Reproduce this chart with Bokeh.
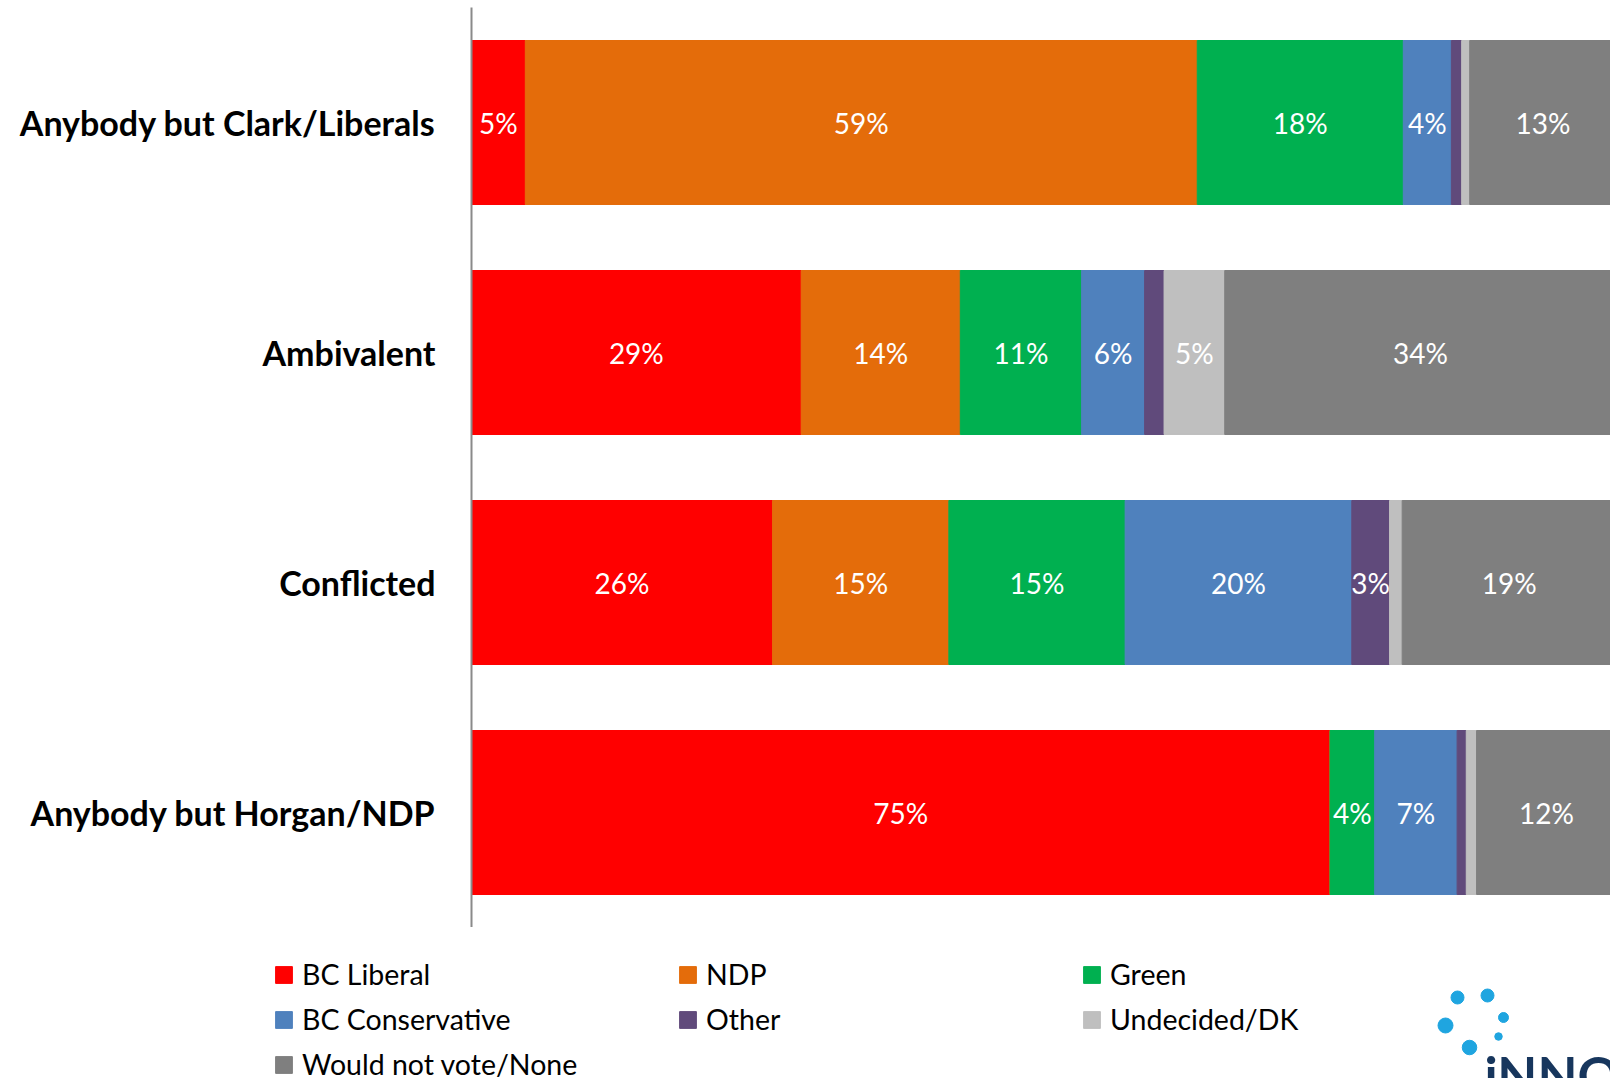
from bokeh.plotting import figure
from bokeh.layouts import column
from bokeh.models import ColumnDataSource, FactorRange, Range1d, Legend, LegendItem
from bokeh.core.properties import value
from bokeh.embed import file_html
from bokeh.resources import INLINE

# ---- data ----
categories = ["Anybody but Clark/Liberals", "Ambivalent", "Conflicted", "Anybody but Horgan/NDP"]
series_names = ["BC Liberal", "NDP", "Green", "BC Conservative", "Other", "Undecided/DK", "Would not vote/None"]
bc_liberal = [4.7, 28.8, 26.3, 75.0]
ndp = [58.7, 13.9, 15.4, 0.0]
green = [18.0, 10.6, 15.4, 3.9]
bc_conservative = [4.2, 5.5, 19.8, 7.2]
other = [0.9, 1.7, 3.3, 0.8]
undecided = [0.7, 5.3, 1.1, 0.9]
would_not_vote = [12.8, 34.2, 18.7, 12.2]

series_keys = ["lib", "ndp", "grn", "con", "oth", "und", "non"]
series_values = [bc_liberal, ndp, green, bc_conservative, other, undecided, would_not_vote]
colors = ["#FF0000", "#E46C0A", "#00B050", "#4F81BD", "#604A7B", "#BFBFBF", "#7F7F7F"]

src = ColumnDataSource(dict(cat=categories, **{k: v for k, v in zip(series_keys, series_values)}))

p = figure(width=1610, height=927,
           y_range=FactorRange(factors=categories[::-1], range_padding=0),
           x_range=Range1d(0, 99.5),
           x_axis_location=None,
           output_backend="svg", toolbar_location=None,
           min_border_left=471, min_border_right=0, min_border_top=7, min_border_bottom=0,
           outline_line_color=None)
p.frame_align = False

renderers = p.hbar_stack(series_keys, y="cat", height=0.713, color=colors, source=src)

# segment labels
lx, ly, lt = [], [], []
for i, c in enumerate(categories):
    left = 0.0
    for vals in series_values:
        v = vals[i]
        if v >= 3:
            lx.append(left + v / 2)
            ly.append(c)
            lt.append(f"{round(v)}%")
        left += v
lab_src = ColumnDataSource(dict(x=lx, y=ly, t=lt))
p.text(x="x", y="y", text="t", source=lab_src, text_align="center", text_baseline="middle",
       text_color="white", text_font=value("Lato"), text_font_size="28px")

p.xgrid.visible = False
p.ygrid.visible = False
yax = p.yaxis[0]
yax.axis_line_color = "#8A8A8A"
yax.axis_line_width = 2
yax.major_tick_line_color = None
yax.minor_tick_line_color = None
yax.major_tick_out = 0
yax.major_tick_in = 0
yax.major_label_standoff = 36
yax.major_label_text_font = "Lato"
yax.major_label_text_font_style = "bold"
yax.major_label_text_font_size = "34px"
yax.major_label_text_color = "#000000"

# ---- legend / logo strip ----
p2 = figure(width=1610, height=151, x_range=Range1d(0, 1610), y_range=Range1d(1078, 927),
            x_axis_location=None, y_axis_location=None,
            output_backend="svg", toolbar_location=None,
            min_border_left=0, min_border_right=0, min_border_top=0, min_border_bottom=0,
            outline_line_color=None)
p2.frame_align = False
p2.xgrid.visible = False
p2.ygrid.visible = False

# legend proxies (placed outside the visible strip)
leg_renderers = [p2.hbar(y=[1000], left=[5000], right=[5001], height=1, color=c) for c in colors]
items = [LegendItem(label=n, renderers=[r]) for n, r in zip(series_names, leg_renderers)]
legend = Legend(items=items, ncols=3, orientation="horizontal", location=(273, -3),
                glyph_width=21, glyph_height=21, label_standoff=8, label_width=364, label_height=32,
                spacing=11, padding=0, margin=0, border_line_color=None, background_fill_alpha=0,
                label_text_font="Lato", label_text_font_size="28.5px", label_text_color="#000000")
p2.add_layout(legend, "center")

# logo (decoration, page pixel positions)
logo_x = [1457, 1487, 1503, 1445, 1498, 1469]
logo_y = [997, 995, 1017, 1025, 1036, 1047]
logo_d = [13, 13, 10, 15, 7.5, 14.5]
p2.scatter(x=logo_x, y=logo_y, size=logo_d, marker="circle", color="#1FA5E0")
p2.text(x=[1484], y=[1073], text=["iNNOVATIVE"], text_font=value("Lato"), text_font_style="bold",
        text_font_size="52px", text_color="#17365D", text_baseline="alphabetic")

open("out.html", "w").write(file_html(column(p, p2), INLINE))
